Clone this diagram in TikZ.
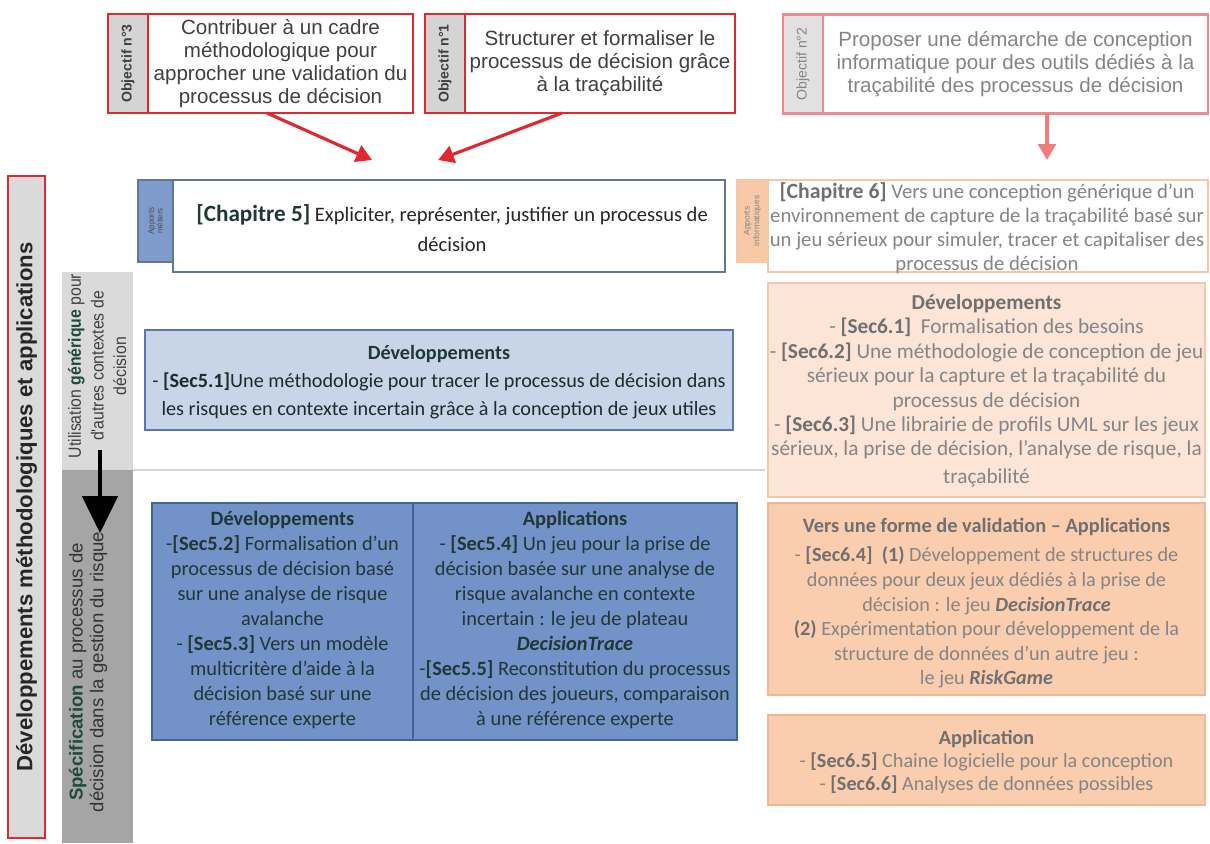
\documentclass[tikz,border=0pt]{standalone}
\usepackage{fontspec}
\setmainfont{Carlito}
\newfontfamily\arialf{Liberation Sans}
\usetikzlibrary{arrows.meta}
\definecolor{objred}{HTML}{E0282E}
\definecolor{lightred}{HTML}{F08A8A}
\definecolor{tabgrey}{HTML}{D4D4D4}
\definecolor{objtext}{HTML}{404040}
\definecolor{greytext}{HTML}{858585}
\definecolor{greybold}{HTML}{707070}
\definecolor{chapborder}{HTML}{5F7898}
\definecolor{bluetab}{HTML}{7F9BCB}
\definecolor{lightblue}{HTML}{C8D4E8}
\definecolor{lightblueborder}{HTML}{5878AC}
\definecolor{bluebox}{HTML}{7392C8}
\definecolor{blueborder}{HTML}{41649E}
\definecolor{darktext}{HTML}{1F3835}
\definecolor{peachlight}{HTML}{FCE4D6}
\definecolor{peachlightborder}{HTML}{F4C7A8}
\definecolor{peach}{HTML}{F9CDAE}
\definecolor{peachborder}{HTML}{F2B790}
\definecolor{orangetab}{HTML}{F8C9A6}
\definecolor{colgreyA}{HTML}{DADADA}
\definecolor{colgreyB}{HTML}{A5A5A5}
\definecolor{darkgreen}{HTML}{1E4A38}
\definecolor{sepgrey}{HTML}{D6D6D6}
\begin{document}
\begin{tikzpicture}[x=0.02cm,y=-0.02cm,
  objbox/.style={draw=objred, line width=1.2pt, fill=white, minimum height=1.98cm, align=center,
     font=\arialf\fontsize{11.7}{13.2}\selectfont, text=objtext, inner sep=0pt},
  objtab/.style={draw=objred, line width=1.2pt, fill=tabgrey, rotate=90, minimum width=1.98cm, minimum height=0.8cm,
     font=\arialf\bfseries\fontsize{8}{9}\selectfont, text=objtext, inner sep=0pt},
  bodytxt/.style={align=center, inner sep=0pt, font=\fontsize{11.6}{14.2}\selectfont},
  redarrow/.style={draw=objred, line width=1.8pt, -{Triangle[length=9pt,width=10pt]}},
]
\useasboundingbox (0,0) rectangle (1210,843);
\fill[white] (0,0) rectangle (1210,843);

% ---- objectives
\node[objbox, minimum width=5.3cm] (o3) at (280.5,63.5) {Contribuer à un cadre\\méthodologique pour\\approcher une validation du\\processus de décision};
\node[objtab] (t3) at (128,63.5) {Objectif n°3};
\node[objbox, minimum width=5.4cm] (o1) at (600,63.5) {Structurer et formaliser le\\processus de décision grâce\\à la traçabilité};
\node[objtab] (t1) at (445,63.5) {Objectif n°1};
\node[objbox, draw=lightred, minimum width=7.7cm, text=greytext] (o2) at (1015.5,64) {Proposer une démarche de conception\\informatique pour des outils dédiés à la\\traçabilité des processus de décision};
\node[objtab, draw=lightred, fill=tabgrey!70, text=greytext, font=\arialf\fontsize{8}{9}\selectfont] (t2) at (803,64) {Objectif n°2};

\coordinate (a3s) at (267,113);
\coordinate (a3e) at (372,160);
\coordinate (a1s) at (562,113);
\coordinate (a1e) at (438,160);
\coordinate (a2s) at (1047,113);
\coordinate (a2e) at (1047,160);
\draw[redarrow] (a3s) -- (a3e);
\draw[redarrow] (a1s) -- (a1e);
\draw[redarrow, draw=lightred!90!red] (a2s) -- (a2e);

% ---- left columns
\node[draw=objred, line width=1.2pt, fill=colgreyA, rotate=90, minimum width=13.24cm, minimum height=0.74cm,
  font=\arialf\bfseries\fontsize{12.6}{14}\selectfont, text=black!85, inner sep=0pt] (leftbar) at (26.5,507)
  {Développements méthodologiques et applications};
\node[fill=colgreyA, minimum width=1.42cm, minimum height=3.96cm, inner sep=0pt] (util) at (97.5,371) {};
\node[fill=colgreyB, minimum width=1.42cm, minimum height=7.46cm, inner sep=0pt] (spec) at (97.5,656.5) {};
\node[rotate=90, inner sep=0pt, font=\arialf\fontsize{10}{12.9}\selectfont, text=objtext] (utiltxt) at (99,366)
  {\scalebox{0.9}[1]{\begin{tabular}{@{}c@{}}Utilisation {\bfseries\color{darkgreen}générique} pour\\d'autres contextes de\\décision\end{tabular}}};
\node[rotate=90, align=center, font=\arialf\fontsize{10.6}{11.8}\selectfont, text=black!80, inner sep=0pt] (spectxt) at (88,672)
  {{\bfseries\color{darkgreen}Spécification} au processus de\\décision dans la gestion du risque};
\coordinate (bas) at (100,450);
\coordinate (bae) at (100,533);
\draw[line width=2.4pt, black, -{Triangle[length=21pt,width=20pt]}] (bas) -- (bae);

% separator
\coordinate (sepa) at (133,470);
\coordinate (sepb) at (765,470);
\draw[sepgrey, line width=1.5pt] (sepa) -- (sepb);

% ---- chapter 5
\node[draw=chapborder, line width=1pt, fill=white, minimum width=11.04cm, minimum height=1.84cm, inner sep=0pt] (c5) at (449,226) {};
\node[bodytxt, font=\fontsize{11.7}{17.5}\selectfont, text=black!85] (c5txt) at (452,228)
  {{\bfseries\fontsize{13.2}{17.5}\selectfont\color{darktext}[Chapitre 5]} Expliciter, représenter, justifier un processus de\\décision};
\node[draw=chapborder, line width=0.8pt, fill=bluetab, rotate=90, minimum width=1.64cm, minimum height=0.7cm,
  align=center, font=\arialf\fontsize{4.5}{5}\selectfont, text=black!70, inner sep=0pt] (c5tab) at (155.5,221) {Apports\\métiers};

% ---- chapter 6
\node[draw=peachlightborder, line width=1pt, fill=white, minimum width=8.8cm, minimum height=1.84cm, inner sep=0pt] (c6) at (988,226) {};
\node[bodytxt, font=\fontsize{11.8}{13.6}\selectfont, text=greytext] (c6txt) at (987,228)
  {{\bfseries\fontsize{12.4}{13.6}\selectfont\color{greybold}[Chapitre 6]} Vers une conception générique d’un\\environnement de capture de la traçabilité basé sur\\un jeu sérieux pour simuler, tracer et capitaliser des\\processus de décision};
\node[draw=peachlightborder, line width=0.8pt, fill=orangetab, rotate=90, minimum width=1.64cm, minimum height=0.62cm,
  align=center, font=\arialf\fontsize{4.8}{5.5}\selectfont, text=greytext, inner sep=0pt] (c6tab) at (752.5,221) {Apports\\informatiques};

% ---- Sec5.1
\node[draw=lightblueborder, line width=1.2pt, fill=lightblue, minimum width=11.76cm, minimum height=2.0cm, inner sep=0pt] (s51) at (439,380) {};
\node[bodytxt, font=\fontsize{11.5}{16}\selectfont, text=darktext!80!black] (s51txt) at (439,382)
  {{\bfseries\color{darktext}Développements}\\- {\bfseries [Sec5.1]}Une méthodologie pour tracer le processus de décision dans\\les risques en contexte incertain grâce à la conception de jeux utiles};

% ---- right developments
\node[draw=peachlightborder, line width=1pt, fill=peachlight, minimum width=8.74cm, minimum height=4.28cm, inner sep=0pt] (d6) at (986.5,390) {};
\node[bodytxt, font=\fontsize{12.1}{13.9}\selectfont, text=greytext] (d6txt) at (986.5,391)
  {{\bfseries\color{greybold}Développements}\\- {\bfseries\color{greybold}[Sec6.1]}~ Formalisation des besoins\\- {\bfseries\color{greybold}[Sec6.2]} Une méthodologie de conception de jeu\\sérieux pour la capture et la traçabilité du\\processus de décision\\- {\bfseries\color{greybold}[Sec6.3]} Une librairie de profils UML sur les jeux\\sérieux, la prise de décision, l’analyse de risque, la\\[2pt]traçabilité};

% ---- blue table
\node[draw=blueborder, line width=1pt, fill=bluebox, minimum width=5.22cm, minimum height=4.74cm, inner sep=0pt] (bl) at (282.5,621.5) {};
\node[draw=blueborder, line width=1pt, fill=bluebox, minimum width=6.48cm, minimum height=4.74cm, inner sep=0pt] (br) at (575,621.5) {};
\node[bodytxt, text=darktext] (bltxt) at (282.5,620)
  {{\bfseries Développements}\\-{\bfseries [Sec5.2]} Formalisation d’un\\processus de décision basé\\sur une analyse de risque\\avalanche\\- {\bfseries [Sec5.3]} Vers un modèle\\multicritère d’aide à la\\décision basé sur une\\référence experte};
\node[bodytxt, text=darktext] (brtxt) at (575,620)
  {{\bfseries Applications}\\- {\bfseries [Sec5.4]} Un jeu pour la prise de\\décision basée sur une analyse de\\risque avalanche en contexte\\incertain : le jeu de plateau\\{\bfseries\itshape DecisionTrace}\\-{\bfseries [Sec5.5]} Reconstitution du processus\\de décision des joueurs, comparaison\\à une référence experte};

% ---- validation
\node[draw=peachborder, line width=1pt, fill=peach, minimum width=8.74cm, minimum height=3.84cm, inner sep=0pt] (v6) at (986.5,599) {};
\node[bodytxt, font=\fontsize{11.5}{14}\selectfont, text=greytext] (v6txt) at (986.5,603)
  {{\bfseries\fontsize{11.6}{14}\selectfont\color{greybold}Vers une forme de validation – Applications}\\[3pt]- {\bfseries\color{greybold}[Sec6.4]}~ {\bfseries\color{greybold}(1)} Développement de structures de\\données pour deux jeux dédiés à la prise de\\décision : le jeu {\bfseries\itshape\color{greybold}DecisionTrace}\\{\bfseries\color{greybold}(2)} Expérimentation pour développement de la\\structure de données d’un autre jeu :\\le jeu {\bfseries\itshape\color{greybold}RiskGame}};

% ---- application
\node[draw=peachborder, line width=1pt, fill=peach, minimum width=8.74cm, minimum height=1.8cm, inner sep=0pt] (a6) at (986.5,760) {};
\node[bodytxt, font=\fontsize{11.5}{13.2}\selectfont, text=greytext] (a6txt) at (986.5,762)
  {{\bfseries\color{greybold}Application}\\- {\bfseries\color{greybold}[Sec6.5]} Chaine logicielle pour la conception\\- {\bfseries\color{greybold}[Sec6.6]} Analyses de données possibles};
\end{tikzpicture}
\end{document}
